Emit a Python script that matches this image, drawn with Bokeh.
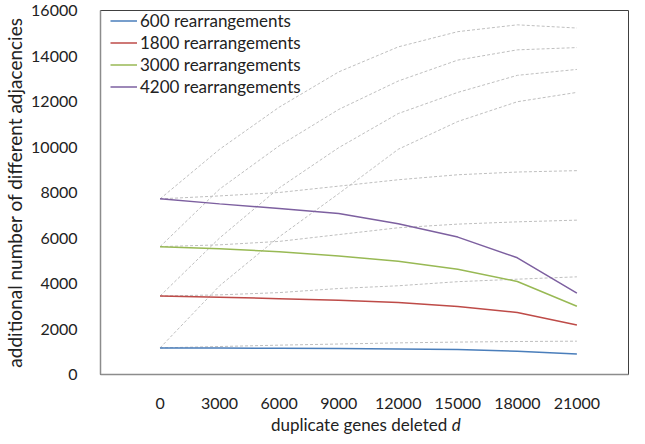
from bokeh.plotting import figure
from bokeh.models import Legend, LegendItem, FixedTicker, Range1d, Div
from bokeh.layouts import column
from bokeh.embed import file_html
from bokeh.resources import INLINE

# ---- data ----
deleted = [0, 3000, 6000, 9000, 12000, 15000, 18000, 21000]
series_names = ["600 rearrangements", "1800 rearrangements",
                "3000 rearrangements", "4200 rearrangements"]
r600 = [1170, 1165, 1155, 1140, 1120, 1095, 1020, 900]
r1800 = [3450, 3400, 3330, 3265, 3170, 2990, 2730, 2180]
r3000 = [5620, 5530, 5400, 5210, 4980, 4630, 4090, 3000]
r4200 = [7720, 7500, 7300, 7080, 6630, 6040, 5130, 3580]

# gray dashed reference curves
steep_a = [7720, 9900, 11750, 13300, 14400, 15070, 15370, 15230]
steep_b = [5620, 8150, 10050, 11650, 12900, 13820, 14270, 14370]
steep_c = [3450, 6000, 8200, 9970, 11470, 12400, 13150, 13410]
steep_d = [1170, 3900, 6050, 7950, 9900, 11120, 11990, 12400]
flat_a = [7720, 7850, 8000, 8280, 8560, 8780, 8900, 8960]
flat_b = [5620, 5700, 5850, 6150, 6450, 6610, 6710, 6785]
flat_c = [3450, 3500, 3600, 3780, 3900, 4080, 4190, 4293]
flat_d = [1170, 1230, 1290, 1340, 1390, 1425, 1450, 1465]

y_ticks = [0, 2000, 4000, 6000, 8000, 10000, 12000, 14000, 16000]
x_title = "duplicate genes deleted"
x_title_var = "d"
y_title = "additional number of different adjacencies"

FONT = "Lato"
TXT = "#222222"

p = figure(width=629, height=412, output_backend="svg", toolbar_location=None,
           x_range=Range1d(-3000, 23600), y_range=Range1d(0, 16000),
           min_border_left=85, min_border_right=1, min_border_top=10,
           min_border_bottom=38)
p.background_fill_color = "white"
p.border_fill_color = "white"
p.outline_line_color = "#404040"
p.outline_line_width = 1
p.grid.visible = False

for ys in [steep_a, steep_b, steep_c, steep_d, flat_a, flat_b, flat_c, flat_d]:
    p.line(deleted, ys, line_color="#BFBFBF", line_width=1, line_dash="3 2")

colors = ["#4A7EBB", "#BE4B48", "#98B954", "#7D60A0"]
renderers = []
for ys, c in zip([r600, r1800, r3000, r4200], colors):
    renderers.append(p.line(deleted, ys, line_color=c, line_width=1.5))

legend = Legend(items=[LegendItem(label=n, renderers=[r]) for n, r in zip(series_names, renderers)],
                location=(10, 277), margin=0, padding=0, spacing=1,
                glyph_width=27, glyph_height=21, label_height=21, label_standoff=3,
                label_text_font=FONT, label_text_font_size="17px", label_text_color=TXT,
                background_fill_alpha=0, border_line_alpha=0)
p.add_layout(legend, "center")

for ax in (p.xaxis[0], p.yaxis[0]):
    ax.axis_line_color = "#8C8C8C"
    ax.axis_line_width = 1.5
    ax.major_tick_line_color = None
    ax.minor_tick_line_color = None
    ax.major_label_text_font = FONT
    ax.major_label_text_font_size = "16px"
    ax.major_label_text_color = TXT

p.xaxis.ticker = FixedTicker(ticks=deleted)
p.xaxis.major_label_standoff = 17
p.yaxis.ticker = FixedTicker(ticks=y_ticks)
p.yaxis.major_label_standoff = 17
p.yaxis.axis_label = y_title
p.yaxis.axis_label_text_font = FONT
p.yaxis.axis_label_text_font_size = "19px"
p.yaxis.axis_label_text_font_style = "normal"
p.yaxis.axis_label_text_color = TXT
p.yaxis.axis_label_standoff = 2

div = Div(text=(f'<div style="padding-left:266px;font-family:{FONT};'
                f'font-size:17px;color:{TXT};line-height:16px;white-space:nowrap">'
                f'{x_title} <i>{x_title_var}</i></div>'),
          width=629, height=16)

layout = column(p, div, spacing=0)
open("out.html", "w").write(file_html(layout, INLINE))
